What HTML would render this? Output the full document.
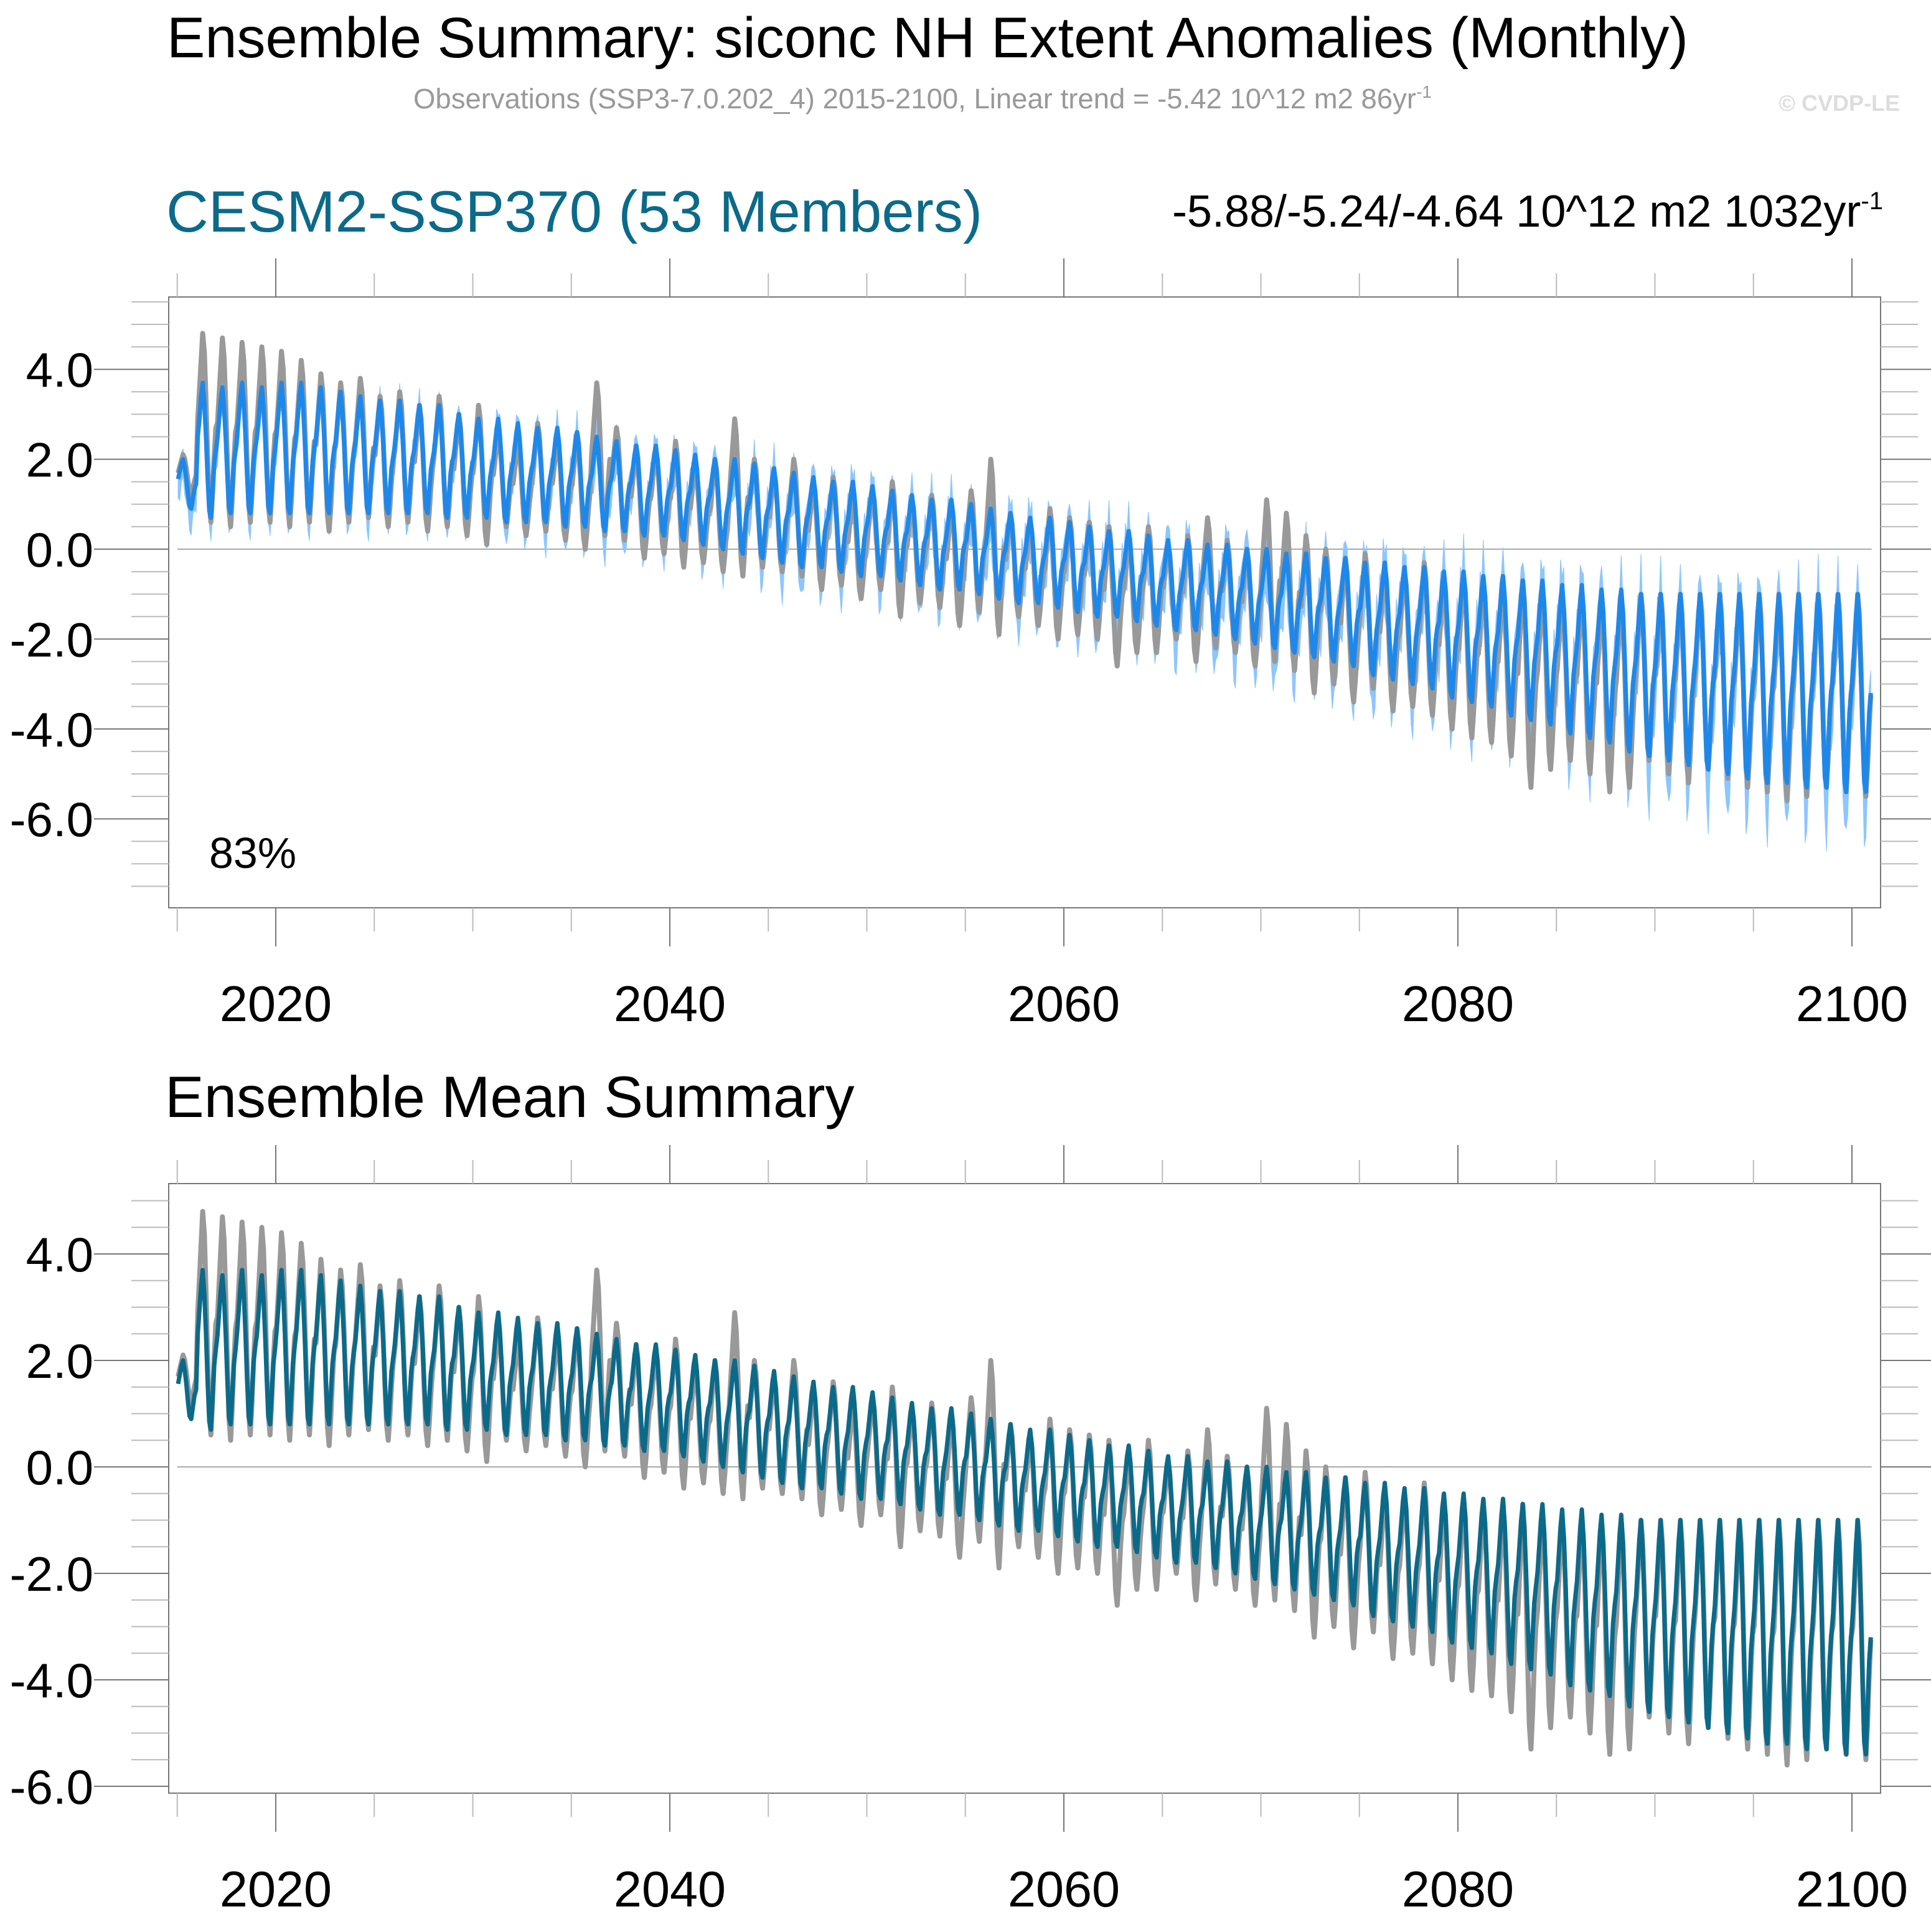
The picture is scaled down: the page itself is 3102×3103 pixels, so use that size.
<!DOCTYPE html>
<html><head><meta charset="utf-8">
<style>
body{margin:0;background:#fff;}
svg text{font-family:"Liberation Sans",sans-serif;}
</style></head>
<body>
<svg id="chart" width="3102" height="3098" viewBox="0 0 3102 3098" xmlns="http://www.w3.org/2000/svg">
<rect width="3102" height="3098" fill="#fff"/>
<text x="1490" y="92" font-size="92" text-anchor="middle">Ensemble Summary: siconc NH Extent Anomalies (Monthly)</text>
<text x="1482" y="174" font-size="45.5" fill="#999" text-anchor="middle">Observations (SSP3-7.0.202_4) 2015-2100, Linear trend = -5.42 10^12 m2 86yr<tspan font-size="28" dy="-17">-1</tspan></text>
<text x="3052" y="178" font-size="36" fill="#ddd" font-weight="bold" text-anchor="end">© CVDP-LE</text>
<text x="267" y="372" font-size="94" fill="#0b6a8a">CESM2-SSP370 (53 Members)</text>
<text x="3025" y="364" font-size="72" text-anchor="end">-5.88/-5.24/-4.64 10^12 m2 1032yr<tspan font-size="40" dy="-28">-1</tspan></text>
<text x="265" y="1794" font-size="94">Ensemble Mean Summary</text>
<g id="top"></g>
<g id="bot"></g>
</svg>
<script>
const years = [2015,2100];
const yTickVals = [-6,-4,-2,0,2,4];
const yTickLabels = ["-6.0","-4.0","-2.0","0.0","2.0","4.0"];
const xTickVals = [2020,2040,2060,2080,2100];
const xTickLabels = ["2020","2040","2060","2080","2100"];
const monthShape = [0.6,0.75,0.9,1.0,0.85,0.6,0.3,0.05,0.0,0.2,0.4,0.5];
const obsShape = [0.55,0.7,0.85,1.0,0.9,0.65,0.35,0.1,0.0,0.15,0.35,0.5];
const ensMax = [2.0,3.7,3.6,3.7,3.6,3.7,3.7,3.6,3.5,3.4,
3.3,3.3,3.2,3.2,3.0,2.9,2.9,2.8,2.7,2.7,
2.6,2.5,2.4,2.3,2.3,2.2,2.1,2.0,2.0,1.9,
1.8,1.7,1.6,1.5,1.5,1.4,1.3,1.2,1.1,1.1,
1.0,0.9,0.8,0.7,0.7,0.6,0.5,0.4,0.4,0.3,
0.2,0.2,0.1,0.1,0.0,0.0,-0.1,-0.1,-0.2,-0.2,
-0.3,-0.3,-0.4,-0.4,-0.5,-0.5,-0.6,-0.6,-0.7,-0.7,
-0.8,-0.8,-0.9,-0.9,-1.0,-1.0,-1.0,-1.0,-1.0,-1.0,
-1.0,-1.0,-1.0,-1.0,-1.0,-1.0];
const ensMin = [0.9,0.7,0.8,0.8,0.8,0.8,0.8,0.8,0.8,0.8,
0.8,0.8,0.8,0.7,0.7,0.7,0.6,0.6,0.6,0.5,
0.5,0.4,0.4,0.3,0.3,0.2,0.1,0.0,-0.1,-0.2,
-0.3,-0.4,-0.4,-0.5,-0.6,-0.6,-0.7,-0.8,-0.9,-0.9,
-1.0,-1.1,-1.2,-1.2,-1.3,-1.4,-1.5,-1.5,-1.6,-1.7,
-1.8,-1.8,-1.9,-2.0,-2.1,-2.2,-2.3,-2.4,-2.5,-2.6,
-2.8,-2.9,-3.0,-3.1,-3.3,-3.4,-3.5,-3.7,-3.8,-3.9,
-4.1,-4.2,-4.3,-4.5,-4.6,-4.7,-4.8,-4.9,-5.0,-5.1,
-5.2,-5.2,-5.3,-5.3,-5.4,-5.4];
const obsMax = [2.1,4.8,4.7,4.6,4.5,4.4,4.2,3.9,3.7,3.8,
3.4,3.5,3.2,3.4,3.0,3.2,2.6,2.4,2.8,2.5,
2.6,3.7,2.7,2.3,2.2,2.4,1.9,2.0,2.9,2.0,
1.7,2.0,1.5,1.6,1.2,1.3,1.5,1.1,1.2,1.0,
1.3,2.0,0.8,0.6,0.9,0.7,0.6,0.5,0.3,0.5,
0.1,0.3,0.7,0.2,0.0,1.1,0.8,0.3,0.0,-0.2,
-0.1,-0.4,-0.5,-0.3,-0.6,-0.6,-0.7,-0.8,-0.7,-0.9,
-1.0,-1.0,-1.0,-1.0,-1.0,-1.0,-1.0,-1.0,-1.0,-1.0,
-1.0,-1.0,-1.0,-1.0,-1.0,-1.0];
const obsMin = [1.2,0.6,0.5,0.6,0.6,0.5,0.6,0.4,0.6,0.7,
0.5,0.6,0.4,0.5,0.3,0.1,0.5,0.3,0.4,0.2,
0.0,0.3,0.2,-0.2,-0.1,-0.4,-0.3,-0.5,-0.6,-0.4,
-0.5,-0.6,-0.9,-0.8,-1.1,-0.9,-1.5,-1.2,-1.3,-1.7,
-1.4,-1.9,-1.5,-1.7,-2.0,-1.9,-2.0,-2.6,-2.3,-2.3,
-2.0,-2.5,-2.2,-2.3,-2.6,-2.5,-2.7,-3.2,-3.0,-3.4,
-3.1,-3.6,-3.5,-3.7,-4.0,-4.2,-4.3,-4.6,-5.3,-4.9,
-4.7,-5.0,-5.4,-5.3,-4.7,-5.0,-5.2,-4.9,-5.1,-5.3,
-5.4,-5.6,-5.5,-5.3,-5.4,-5.5];
const spread = [0.4,0.4,0.4,0.4,0.4,0.4,0.4,0.4,0.4,0.4,
0.4,0.4,0.4,0.4,0.4,0.45,0.45,0.45,0.5,0.5,
0.5,0.5,0.5,0.5,0.5,0.55,0.55,0.55,0.55,0.55,
0.6,0.6,0.6,0.6,0.6,0.6,0.6,0.6,0.6,0.6,
0.6,0.65,0.65,0.65,0.65,0.7,0.7,0.7,0.7,0.7,
0.7,0.7,0.7,0.75,0.75,0.75,0.75,0.75,0.8,0.8,
0.8,0.8,0.8,0.8,0.85,0.85,0.85,0.85,0.85,0.85,
0.9,0.9,0.9,0.9,0.9,0.9,0.9,0.9,0.9,0.9,
0.9,0.9,0.9,0.9,0.9,0.9];

const NS="http://www.w3.org/2000/svg";
function mk(tag,attrs,parent){const e=document.createElementNS(NS,tag);for(const k in attrs)e.setAttribute(k,attrs[k]);parent.appendChild(e);return e;}
const L=271,R=3021;
const xScale=t=>443+(t-2020)*31.65;

function series(mx,mn,shape){
  const pts=[];
  for(let i=0;i<mx.length;i++)for(let m=0;m<12;m++){
    pts.push([years[0]+i+(m+0.5)/12, mn[i]+shape[m]*(mx[i]-mn[i]), i]);
  }
  return pts;
}
function drawPanel(g,top,bot,y0,unit,showBand,meanColor,lab){
  const yScale=v=>y0-v*unit;
  const frame=mk('rect',{x:L,y:top,width:R-L,height:bot-top,fill:'none',stroke:'#777','stroke-width':2},g);
  
  
  const vTop=(y0-top)/unit, vBot=(y0-bot)/unit;
  for(let v=Math.ceil(vBot*2)/2; v<=vTop; v+=0.5){
    const major=Math.abs(v/2-Math.round(v/2))<1e-6;
    const y=yScale(v);
    const len=major?120:60;
    const t1=mk('line',{x1:L-len,x2:L,y1:y,y2:y,stroke:major?'#777':'#bbb','stroke-width':2},g);
    
    
    mk('line',{x1:R,x2:R+len,y1:y,y2:y,stroke:major?'#777':'#bbb','stroke-width':2},g);
  }
  yTickVals.forEach((v,i)=>{
    const y=yScale(v); if(y<top||y>bot)return;
    const t=mk('text',{x:150,y:y+28,'font-size':78,'text-anchor':'end'},g);
    t.textContent=yTickLabels[i];
    
    
  });
  for(let yr=2015;yr<=2100;yr+=5){
    const major=yr%20===0, x=xScale(yr), len=major?62:38;
    const a=mk('line',{x1:x,x2:x,y1:top-len,y2:top,stroke:major?'#777':'#bbb','stroke-width':2},g);
    
    
    mk('line',{x1:x,x2:x,y1:bot,y2:bot+len,stroke:major?'#777':'#bbb','stroke-width':2},g);
  }
  xTickVals.forEach((v,i)=>{
    const t=mk('text',{x:xScale(v),y:bot+182,'font-size':81,'text-anchor':'middle'},g);
    t.textContent=xTickLabels[i];
    
    
  });
  const z=mk('line',{x1:xScale(2015),x2:xScale(2101),y1:yScale(0),y2:yScale(0),stroke:'#aaa','stroke-width':2},g);
  
  
  const ens=series(ensMax,ensMin,monthShape);
  const obs=series(obsMax,obsMin,obsShape);
  if(showBand){
    const up=ens.map(p=>xScale(p[0]).toFixed(1)+','+yScale(p[1]+spread[p[2]]*(0.6+0.4*Math.sin(p[0]*37))).toFixed(1));
    const dn=ens.slice().reverse().map(p=>xScale(p[0]).toFixed(1)+','+yScale(p[1]-spread[p[2]]*(1.2-0.4*Math.cos(p[0]*23))).toFixed(1));
    const band=mk('polygon',{points:up.concat(dn).join(' '),fill:'#8cc6ff','stroke':'#8cc6ff','stroke-width':1},g);
    
    
  }
  const ol=mk('polyline',{points:obs.map(p=>xScale(p[0]).toFixed(1)+','+yScale(p[1]).toFixed(1)).join(' '),fill:'none',stroke:'#999','stroke-width':8,'stroke-linejoin':'round'},g);
  
  
  const el=mk('polyline',{points:ens.map(p=>xScale(p[0]).toFixed(1)+','+yScale(p[1]).toFixed(1)).join(' '),fill:'none',stroke:meanColor,'stroke-width':7,'stroke-linejoin':'round'},g);
  
  
  if(lab){
    const t=mk('text',{x:336,y:1394,'font-size':70},g);
    t.textContent=lab;
    
    
  }
}
drawPanel(document.getElementById('top'),477,1458,882,72.2,true,'#1e88ea','83%');
drawPanel(document.getElementById('bot'),1901,2880,2356,85.5,false,'#0b6a8a',null);
</script>
</body></html>
